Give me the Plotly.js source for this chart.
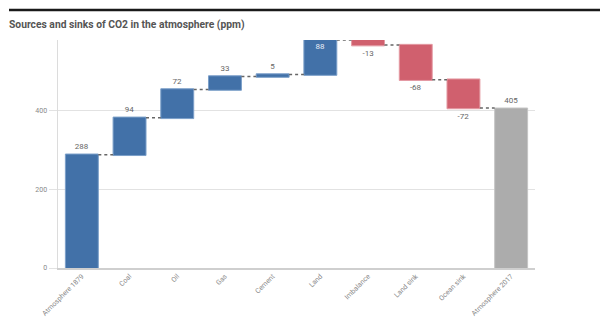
<!DOCTYPE html>
<html>
<head>
<meta charset="utf-8">
<script src="https://cdn.plot.ly/plotly-3.0.1.min.js"></script>
<style>html,body{margin:0;padding:0;background:#fff;}#chart{width:600px;height:322px;}</style>
</head>
<body>
<div id="chart"></div>
<script>
const categories = ["Atmosphere 1879", "Coal", "Oil", "Gas", "Cement", "Land", "Imbalance", "Land sink", "Ocean sink", "Atmosphere 2017"];
const values = [288, 94, 72, 33, 5, 88, -13, -88, -72, 405];
const measures = ["relative", "relative", "relative", "relative", "relative", "relative", "relative", "relative", "relative", "absolute"];
const labels = ["288", "94", "72", "33", "5", "88", "-13", "-68", "-72", "405"];
const yTicks = [0, 200, 400];

const textPos = categories.map((c, i) => c === "Land" ? "inside" : "outside");

const trace = {
  type: "waterfall",
  x: categories,
  y: values,
  measure: measures,
  text: labels,
  texttemplate: "%{text}",
  textposition: textPos,
  insidetextanchor: "end",
  cliponaxis: false,
  textfont: {family: "Roboto, Arial, sans-serif", size: 8, color: "#666"},
  insidetextfont: {family: "Roboto, Arial, sans-serif", size: 8, color: "#e8eef6"},
  outsidetextfont: {family: "Roboto, Arial, sans-serif", size: 8, color: "#666"},
  increasing: {marker: {color: "#4271a8", line: {color: "#7b9fc9", width: 1}}},
  decreasing: {marker: {color: "#d0606e", line: {color: "#e49aa3", width: 1}}},
  totals: {marker: {color: "#acacac", line: {color: "#c4c4c4", width: 1}}},
  connector: {mode: "between", line: {color: "#666", width: 1.5, dash: "dot"}},
  hoverinfo: "skip"
};

const layout = {
  width: 600,
  height: 322,
  margin: {l: 58, r: 65, t: 40, b: 54},
  paper_bgcolor: "#fff",
  plot_bgcolor: "#fff",
  showlegend: false,
  waterfallgap: 0.31,
  title: {
    text: "Sources and sinks of CO2 in the atmosphere (ppm)",
    x: 9/600, xref: "container", xanchor: "left", y: 1 - 24/322, yref: "container", yanchor: "middle",
    font: {family: "Roboto, Arial, sans-serif", size: 10.3, color: "#555", weight: "bold"}
  },
  xaxis: {
    type: "category",
    tickangle: -45,
    showgrid: false,
    showline: true,
    linecolor: "#cfcfcf",
    linewidth: 1.5,
    ticks: "",
    tickfont: {family: "Roboto, Arial, sans-serif", size: 7, color: "#888"},
    fixedrange: true
  },
  yaxis: {
    range: [0, 580],
    tickvals: yTicks,
    ticktext: yTicks.map(String),
    showgrid: true,
    gridcolor: "#e2e2e2",
    gridwidth: 1,
    zeroline: false,
    showline: true,
    linecolor: "#dcdcdc",
    linewidth: 1.5,
    ticks: "outside",
    ticklen: 8,
    tickcolor: "#e2e2e2",
    tickfont: {family: "Roboto, Arial, sans-serif", size: 7, color: "#888"},
    fixedrange: true
  },
  shapes: [
    {type: "line", xref: "paper", yref: "paper", x0: -49/477, x1: 542/477, y0: 1 + 30/228, y1: 1 + 30/228, line: {color: "#1a1a1a", width: 2.5}}
  ]
};

Plotly.newPlot("chart", [trace], layout, {displayModeBar: false, staticPlot: true});
</script>
</body>
</html>
